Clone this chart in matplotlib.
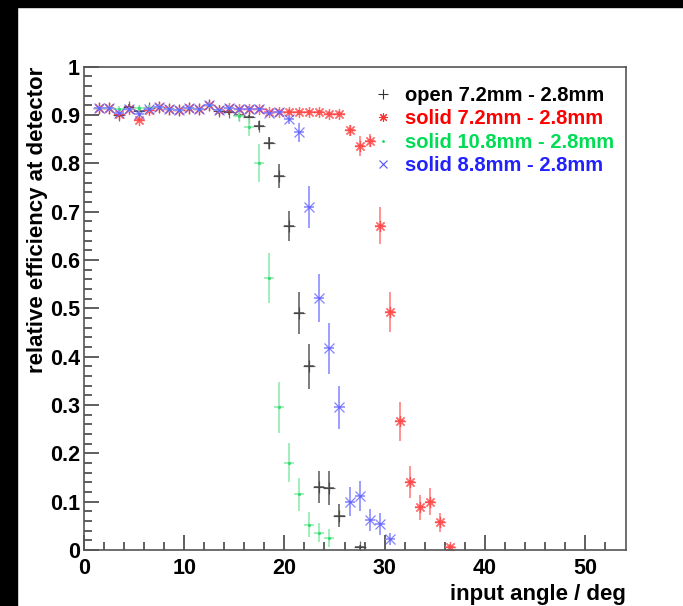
import matplotlib
matplotlib.use("Agg")
import matplotlib.pyplot as plt
from matplotlib.lines import Line2D
from matplotlib.patches import Rectangle

plt.rcParams["font.family"] = ["Liberation Sans", "DejaVu Sans"]
plt.rcParams["font.weight"] = "bold"

# ----------------------------
# Data
# ----------------------------
open72_x = [1.5, 2.5, 3.5, 4.5, 5.5, 6.5, 7.5, 8.5, 9.5, 10.5, 11.5, 12.5, 13.5, 14.5,
            15.5, 16.5, 17.5, 18.5, 19.5, 20.5, 21.5, 22.5, 23.5, 24.5, 25.5, 27.5]
open72_y = [0.914, 0.914, 0.901, 0.917, 0.908, 0.915, 0.917, 0.912, 0.910, 0.915, 0.912, 0.920, 0.908, 0.906,
            0.900, 0.895, 0.878, 0.842, 0.773, 0.671, 0.490, 0.380, 0.131, 0.128, 0.071, 0.006]
open72_err = [0.005] * 16 + [0.009, 0.012, 0.025, 0.031, 0.043, 0.047, 0.033, 0.035, 0.024, 0.005]

solid72_x = [1.5, 2.5, 3.5, 4.5, 5.5, 6.5, 7.5, 8.5, 9.5, 10.5, 11.5, 12.5, 13.5, 14.5, 15.5, 16.5, 17.5, 18.5,
             19.5, 20.5, 21.5, 22.5, 23.5, 24.5, 25.5, 26.5, 27.5, 28.5, 29.5, 30.5, 31.5, 32.5, 33.5, 34.5,
             35.5, 36.5]
solid72_y = [0.914, 0.914, 0.902, 0.912, 0.890, 0.911, 0.917, 0.912, 0.910, 0.915, 0.912, 0.921, 0.910, 0.915,
             0.912, 0.913, 0.912, 0.906, 0.907, 0.907, 0.906, 0.906, 0.906, 0.903, 0.903, 0.868, 0.836, 0.847,
             0.671, 0.493, 0.266, 0.140, 0.088, 0.100, 0.057, 0.007]
solid72_err = [0.005] * 25 + [0.012, 0.021, 0.014, 0.038, 0.041, 0.041, 0.033, 0.026, 0.028, 0.019, 0.005]

solid108_x = [1.5, 2.5, 3.5, 4.5, 5.5, 6.5, 7.5, 8.5, 9.5, 10.5, 11.5, 12.5, 13.5, 14.5, 15.5, 16.5, 17.5,
              18.5, 19.5, 20.5, 21.5, 22.5, 23.5, 24.5]
solid108_y = [0.914, 0.914, 0.913, 0.912, 0.914, 0.915, 0.917, 0.912, 0.910, 0.915, 0.912, 0.920, 0.910, 0.915,
              0.897, 0.875, 0.800, 0.5625, 0.295, 0.181, 0.115, 0.052, 0.036, 0.025]
solid108_err = [0.005] * 14 + [0.010, 0.018, 0.039, 0.052, 0.052, 0.041, 0.034, 0.026, 0.020, 0.018]

solid88_x = [1.5, 2.5, 3.5, 4.5, 5.5, 6.5, 7.5, 8.5, 9.5, 10.5, 11.5, 12.5, 13.5, 14.5, 15.5, 16.5, 17.5, 18.5,
             19.5, 20.5, 21.5, 22.5, 23.5, 24.5, 25.5, 26.5, 27.5, 28.5, 29.5, 30.5]
solid88_y = [0.914, 0.914, 0.905, 0.912, 0.903, 0.912, 0.917, 0.912, 0.910, 0.915, 0.912, 0.921, 0.910, 0.915,
             0.912, 0.913, 0.912, 0.905, 0.906, 0.891, 0.864, 0.710, 0.522, 0.417, 0.295, 0.100, 0.112, 0.062,
             0.054, 0.023]
solid88_err = [0.005] * 19 + [0.010, 0.019, 0.044, 0.050, 0.052, 0.044, 0.030, 0.031, 0.022, 0.022, 0.012]

labels = ["open 7.2mm - 2.8mm", "solid 7.2mm - 2.8mm", "solid 10.8mm - 2.8mm", "solid 8.8mm - 2.8mm"]
colors = ["black", "#ff0000", "#00dd55", "#2222ff"]
mark_colors = ["#333333", "#ff3030", "#20d860", "#5050ff"]
bar_colors = ["#666666", "#ff8080", "#90ecb0", "#8c8cff"]
markers = ["+", (8, 2, 0), ".", "x"]
msizes = [9, 8, 3, 7.5]

series = [(open72_x, open72_y, open72_err),
          (solid72_x, solid72_y, solid72_err),
          (solid108_x, solid108_y, solid108_err),
          (solid88_x, solid88_y, solid88_err)]

# ----------------------------
# Plot
# ----------------------------
fig = plt.figure(figsize=(6.83, 6.06), dpi=100)
ax = fig.add_axes([0.123, 0.0924, 0.7936, 0.7976])

for (x, y, e), mc, bc, m, ms in zip(series, mark_colors, bar_colors, markers, msizes):
    ax.errorbar(x, y, yerr=e, xerr=0.5, fmt="none", ecolor=bc, elinewidth=1.2, capsize=0)
    ax.plot(x, y, linestyle="none", marker=m, markersize=ms, color=mc, markeredgewidth=0.9, alpha=0.7)

ax.set_xlim(0, 54.1)
ax.set_ylim(0, 1)
ax.set_xticks([0, 10, 20, 30, 40, 50])
ax.set_xticks(range(0, 54, 2), minor=True)
ax.set_yticks([0, 0.1, 0.2, 0.3, 0.4, 0.5, 0.6, 0.7, 0.8, 0.9, 1])
ax.set_yticklabels(["0", "0.1", "0.2", "0.3", "0.4", "0.5", "0.6", "0.7", "0.8", "0.9", "1"])
ax.set_yticks([i / 50 for i in range(51)], minor=True)
ax.tick_params(which="both", direction="in", top=False, right=False, color="#444444",
               labelsize=15.5, width=1.2)
ax.tick_params(which="major", length=11)
ax.tick_params(which="minor", length=5.5)
ax.tick_params(axis="x", pad=6)
ax.tick_params(axis="y", pad=3)
for s in ax.spines.values():
    s.set_color("#555555")
    s.set_linewidth(1.2)

ax.set_xlabel("input angle / deg", fontsize=16, fontweight="bold", loc="right", labelpad=3)
ax.set_ylabel("relative efficiency at detector", fontsize=16, fontweight="bold", loc="top", labelpad=1)

handles = [Line2D([], [], linestyle="none", marker=m, markersize=ms * 0.8, color=c, markeredgewidth=0.8)
           for c, m, ms in zip(mark_colors, markers, msizes)]
leg = ax.legend(handles, labels, loc="upper left", bbox_to_anchor=(0.50, 0.998), frameon=False,
                handlelength=1.0, handletextpad=0.6, labelspacing=0.22,
                prop={"weight": "bold", "size": 14.5})
for t, c in zip(leg.get_texts(), colors):
    t.set_color(c)

# dark slide border seen on the top and left of the screenshot
fig.patches.append(Rectangle((0, 1 - 7 / 606), 1, 7 / 606, transform=fig.transFigure,
                             color="black", zorder=-1))
fig.patches.append(Rectangle((0, 0), 17 / 683, 1, transform=fig.transFigure,
                             color="black", zorder=-1))

fig.savefig("out.png", dpi=100)
